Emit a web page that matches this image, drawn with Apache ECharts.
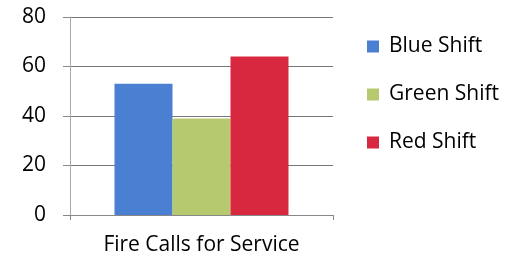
<!DOCTYPE html>
<html>
<head>
  <meta charset="utf-8">
  <title>Fire Calls</title>
  <script src="https://cdn.jsdelivr.net/npm/echarts@6/dist/echarts.min.js"></script>
</head>
<body style="margin:0;background:#fff">
<div id="main" style="height: 260px;width: 523px"></div>
<script type="text/javascript">
  var categories = ['Fire Calls for Service'];
  var seriesNames = ['Blue Shift', 'Green Shift', 'Red Shift'];
  var blueShift = [53];
  var greenShift = [39];
  var redShift = [64];
  var colors = ['#4a7fd2', '#b7c96f', '#d8283f'];

  var myChart = echarts.init(document.getElementById('main'));
  var font = 'Open Sans';
  var option = {
    color: colors,
    animation: false,
    grid: { left: 70, top: 17, width: 263, height: 198 },
    legend: {
      orient: 'vertical',
      left: 362,
      top: 31,
      itemGap: 27,
      itemWidth: 12,
      itemHeight: 12,
      icon: 'rect',
      textStyle: { fontFamily: font, fontSize: 21, color: '#000', padding: [0, 0, 0, 5] },
      data: seriesNames
    },
    xAxis: {
      type: 'category',
      data: categories,
      axisLine: { lineStyle: { color: '#888' } },
      axisTick: { show: true, length: 5, lineStyle: { color: '#888' } },
      axisLabel: { fontFamily: font, fontSize: 21, color: '#000', margin: 20 }
    },
    yAxis: {
      type: 'value',
      min: 0, max: 80, interval: 20,
      axisLine: { show: true, lineStyle: { color: '#aaa' } },
      axisTick: { show: true, length: 7, lineStyle: { color: '#888' } },
      axisLabel: { fontFamily: font, fontSize: 21, color: '#000', margin: 24 },
      splitLine: { lineStyle: { color: '#777', width: 1 } }
    },
    series: [
      { name: seriesNames[0], type: 'bar', data: blueShift, barWidth: 58, barGap: '0%' },
      { name: seriesNames[1], type: 'bar', data: greenShift, barWidth: 58, barGap: '0%' },
      { name: seriesNames[2], type: 'bar', data: redShift, barWidth: 58, barGap: '0%' }
    ]
  };
  myChart.setOption(option);
</script>
</body>
</html>
